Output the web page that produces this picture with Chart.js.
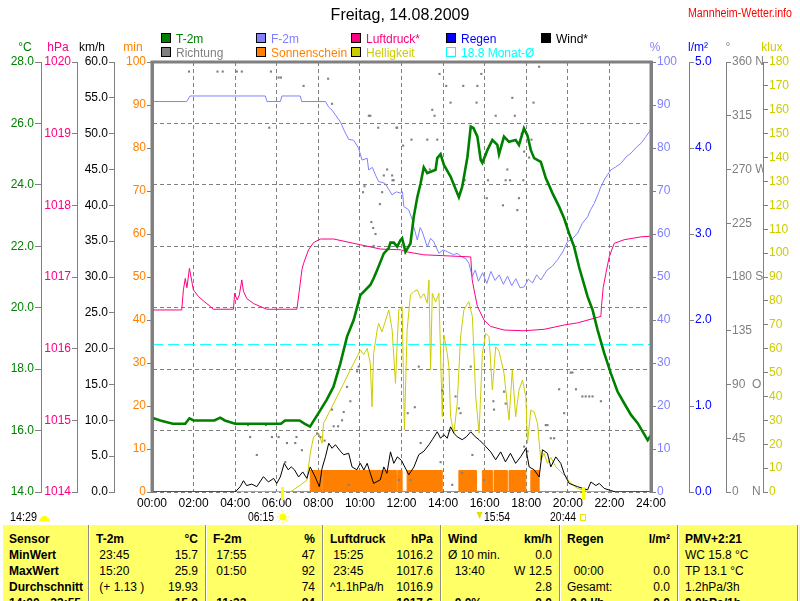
<!DOCTYPE html>
<html lang="de">
<head>
<meta charset="utf-8">
<title>Freitag, 14.08.2009</title>
<script src="https://cdn.jsdelivr.net/npm/chart.js@4.4.1/dist/chart.umd.min.js"></script>
<style>
  html, body { margin:0; padding:0; background:#fff; }
  body { width:800px; height:601px; overflow:hidden; position:relative; font-family:"Liberation Sans", Arial, sans-serif; }
  #chartBox { position:absolute; left:0; top:0; width:800px; height:525px; }
  #stats { position:absolute; left:3px; top:525px; width:797px; height:76px; background:#ffff66; overflow:hidden; font-size:12px; color:#000; }
  #stats .col { position:absolute; top:0; height:100%; box-sizing:border-box; }
  #stats .sep { border-left:1px solid #8c8c8c; box-shadow: inset 1px 0 0 #ffffff; }
  #stats .cell { position:absolute; left:0; right:0; height:16px; line-height:16px; white-space:pre; }
  #stats .l { position:absolute; left:7px; }
  #stats .c0 .l { left:6px; }
  #stats .r { position:absolute; right:7px; }
  #stats .b { font-weight:bold; }
</style>
</head>
<body>
<div id="chartBox"><canvas id="c" width="800" height="525"></canvas></div>
<div id="stats"></div>
<script>
// ---------------- data ----------------
const hourTickLabels = ['00:00','02:00','04:00','06:00','08:00','10:00','12:00','14:00','16:00','18:00','20:00','22:00','24:00'];
const dirTickLabels = ['0    N','45','90  O','135','180 S','225','270 W','315','360 N'];

const tempHours = [0,0.4,1.0,1.6,1.8,2.0,3.0,3.28,3.5,4.0,6.2,6.4,7.1,7.35,7.6,8.0,8.4,8.73,9.06,9.38,9.7,10.02,10.5,10.66,10.83,11.15,11.39,11.47,11.63,11.79,11.95,12.03,12.19,12.43,12.59,12.76,12.92,13.07,13.24,13.64,13.72,13.88,14.04,14.36,14.76,14.92,15.17,15.33,15.46,15.65,15.81,15.89,16.13,16.37,16.61,16.69,16.93,17.17,17.49,17.65,17.89,18.06,18.22,18.38,18.7,18.94,19.26,19.58,19.82,20.06,20.3,20.55,20.95,21.19,21.43,21.75,22.07,22.39,22.71,23.04,23.36,23.84,24.0];
const tempValues = [16.42,16.33,16.22,16.22,16.4,16.33,16.33,16.42,16.33,16.22,16.22,16.33,16.33,16.22,16.13,16.56,17.0,17.43,18.19,19.06,19.6,20.41,20.74,20.96,21.23,21.77,21.94,22.12,22.12,21.99,22.2,22.26,21.82,22.09,22.96,23.6,24.05,24.57,24.38,24.49,24.87,25.0,24.65,24.27,23.6,23.94,24.9,25.9,25.85,25.57,24.81,24.72,25.13,25.46,25.3,25.0,25.57,25.4,25.46,25.3,25.84,25.6,25.13,24.87,24.75,24.22,23.73,23.29,22.91,22.42,21.99,21.3,20.36,19.93,19.28,18.52,17.86,17.27,16.89,16.51,16.24,15.69,15.85];

const humHours = [0,1.67,1.83,5.45,5.53,6.17,6.25,7.13,7.2,8.34,8.5,8.66,8.85,9.06,9.25,9.46,9.7,9.94,10.1,10.35,10.42,10.6,10.75,10.9,11.2,11.55,11.75,11.95,12.05,12.11,12.35,12.52,12.6,12.76,12.9,13.0,13.24,13.4,13.55,13.8,14.0,14.2,14.5,14.68,14.9,15.1,15.24,15.4,15.55,15.7,15.9,16.1,16.3,16.5,16.7,16.9,17.1,17.3,17.5,17.7,17.9,18.1,18.3,18.5,18.7,19.0,19.25,19.5,19.75,19.98,20.2,20.47,20.7,20.95,21.1,21.27,21.45,21.59,21.8,22.07,22.3,22.55,22.8,23.04,23.3,23.52,23.75,23.92,24.0];
const humValues = [90.8,90.8,92.1,92.1,90.8,90.8,92.1,92.1,90.8,90.8,89.5,88.8,87.5,86.1,84.0,82.0,81.8,79.9,77.2,77.6,74.9,75.5,73.7,72.2,71.8,69.1,69.8,69.5,69.8,66.4,65.6,63.3,61.5,58.6,61.5,60.5,57.0,59.0,58.2,55.5,56.3,55.9,55.2,55.5,54.7,54.2,53.2,50.1,51.6,49.0,51.0,48.5,51.3,49.2,50.5,48.3,50.2,48.0,49.6,47.5,47.7,49.5,48.6,50.5,49.3,51.6,52.5,54.0,55.8,58.2,58.8,60.2,62.5,64.0,65.7,67.1,69.2,71.0,73.0,74.9,75.6,76.4,77.9,78.8,80.2,81.1,82.6,83.8,84.5];

const pressHours = [0,1.43,1.51,1.6,1.68,1.8,1.99,2.23,2.5,2.8,2.95,3.92,3.97,4.1,4.2,4.32,4.4,4.56,4.88,5.2,5.53,6.97,7.13,7.21,7.29,7.53,7.77,8.1,8.74,9.38,10.02,10.99,11.95,12.27,13.07,15.33,15.4,15.49,15.65,15.97,16.29,16.93,17.89,18.86,19.82,20.47,21.59,21.62,21.7,21.83,21.99,22.23,22.71,23.52,24];
const pressValues = [1016.54,1016.54,1016.82,1016.98,1016.85,1017.12,1016.82,1016.73,1016.66,1016.59,1016.55,1016.55,1016.77,1016.68,1016.75,1016.96,1016.8,1016.7,1016.63,1016.59,1016.55,1016.55,1016.91,1017.1,1017.19,1017.38,1017.48,1017.53,1017.53,1017.49,1017.45,1017.39,1017.38,1017.35,1017.31,1017.28,1016.96,1016.82,1016.59,1016.4,1016.31,1016.26,1016.25,1016.27,1016.33,1016.36,1016.45,1016.6,1016.85,1017.05,1017.28,1017.47,1017.52,1017.56,1017.57];

const windHours = [0,4.0,4.24,4.4,4.55,4.8,5.04,5.36,5.6,5.85,6.0,6.17,6.36,6.55,6.7,6.85,7.05,7.25,7.45,7.61,7.85,8.05,8.18,8.34,8.5,8.66,8.82,9.06,9.22,9.46,9.62,9.85,10.02,10.19,10.35,10.5,10.66,10.98,11.15,11.3,11.47,11.63,11.8,12.0,12.35,12.6,12.83,13.08,13.32,13.48,13.72,13.88,14.04,14.2,14.36,14.52,14.68,14.92,15.12,15.33,15.55,15.73,15.97,16.29,16.53,16.77,17.0,17.24,17.49,17.73,17.98,18.14,18.38,18.62,18.78,19.02,19.18,19.42,19.66,19.82,20.06,20.47,20.95,21.11,21.35,21.51,21.75,22.07,22.3,24];
const windValues = [0,0,0.74,1.58,0.9,1.1,0.74,2.14,1.4,1.9,1.2,2.1,4.0,3.1,3.5,3.1,2.1,2.8,1.9,3.5,2.1,0.74,3.3,4.9,6.8,6.1,6.6,5.7,5.2,5.4,3.5,3.1,4.0,3.07,4.0,2.6,1.2,1.7,3.5,2.6,5.6,4.0,4.9,4.4,2.4,3.5,5.2,5.7,6.6,7.3,8.4,7.5,8.0,7.5,9.1,8.2,7.7,7.3,7.7,8.4,7.7,7.3,6.6,5.6,4.5,5.6,4.2,5.4,4.0,4.9,6.1,3.5,3.1,2.1,5.9,5.4,3.5,4.9,4.0,2.6,1.2,0.74,0.3,1.4,0.9,1.2,0.5,0.2,0,0];

const luxHours = [0,6.65,7.13,7.45,7.61,7.77,8.02,8.18,8.25,8.58,8.9,9.22,9.54,9.86,10.02,10.18,10.35,10.5,10.58,10.66,10.83,10.9,11.06,11.22,11.39,11.55,11.71,11.79,11.87,12.03,12.14,12.27,12.43,12.6,12.76,12.92,13.08,13.24,13.32,13.4,13.48,13.64,13.8,13.96,14.04,14.2,14.28,14.36,14.52,14.68,14.84,15.0,15.24,15.41,15.57,15.73,15.89,16.05,16.21,16.37,16.53,16.69,16.93,17.17,17.33,17.49,17.65,17.82,17.98,18.06,18.22,18.38,18.54,18.7,18.86,19.02,19.18,19.42,19.66,19.9,20.14,20.47,20.87,21.0,24];
const luxValues = [0,0,2.9,5,16.2,23.1,24.6,20.4,28.8,34.3,39.9,45.5,51.1,56.6,59.4,57.5,60.1,53.9,35.7,58.0,67.8,70.6,67.0,71.5,76.2,67.8,45.5,62.0,76.2,77.6,26.0,67.8,82.5,84.0,84.6,81.1,83.0,79.0,88.7,51.1,83.2,79.5,83.2,31.5,65.7,58.0,52.4,31.5,24.6,37.1,65.0,76.2,79.7,73.4,39.9,24.6,58.0,66.4,65.0,42.7,60.8,59.0,49.7,30.1,51.1,31.5,42.7,46.9,39.9,20.4,34.3,33.5,28.8,13.4,16.2,12.0,14.5,10.6,8.5,6.4,3.6,1.5,0.5,0,0];

const sunshineHours = [0,7.61,8.16,8.21,11.77,11.82,12.03,12.27,13.96,14.76,15.61,15.89,16.37,16.45,17.09,17.17,17.98,18.22,18.62,24];
const sunshineMin   = [0,5,0,5,0,5,0,5,0,5,0,5,0,5,0,5,0,5,0,0];

const dirHours = [1.78,3.15,3.4,4.08,4.32,4.61,4.72,5.04,5.48,5.64,5.72,5.77,6.09,6.09,6.2,6.41,6.49,6.89,6.95,7.21,7.29,7.94,8.1,8.3,8.47,8.66,8.66,8.74,8.95,9.14,9.22,9.38,9.46,9.54,9.86,9.94,10.15,10.22,10.43,10.5,10.55,10.64,10.66,10.75,10.88,10.96,11.07,11.15,11.31,11.55,11.57,11.62,11.76,11.79,11.87,12.08,12.3,12.43,12.48,12.64,12.83,12.92,13.24,13.36,13.48,13.59,13.72,13.83,13.88,13.96,14.15,14.36,14.44,14.6,14.76,14.84,14.92,14.97,15.04,15.33,15.41,15.61,15.65,15.84,15.97,16.1,16.16,16.42,16.45,16.53,16.88,16.93,17.01,17.01,17.09,17.22,17.33,17.45,17.57,17.65,17.78,17.86,17.9,17.9,18.06,18.14,18.25,18.35,18.62,18.94,19.02,19.18,19.34,19.58,19.82,20.14,20.22,20.39,20.7,20.86,21.03,21.19,21.59];
const dirValues = [352,352,352,352,352,56,46,31,56,305,352,46,347,46,347,25,41,41,46,35,340,49,46,43,346,325,69,55,55,60,67,88,6,76,101,105,251,256,315,315,226,221,206,216,305,241,251,265,270,265,261,261,305,305,10,290,66,10,295,71,105,41,295,270,320,315,295,350,25,85,340,326,6,80,70,66,16,340,261,105,31,326,340,350,10,246,261,76,69,315,240,84,261,74,270,261,330,315,236,246,300,261,285,38,34,280,295,326,356,56,56,45,45,86,66,100,100,86,80,80,80,80,76];

const rainHours = [0,24];
const rainValues = [0,0];

const monthAvgTemp = 18.8;
const sunEventHours = [6.25, 20.733];
const sunEventLabels = ['06:15','20:44'];

const tableHead = [['Sensor',''],['T-2m','°C'],['F-2m','%'],['Luftdruck','hPa'],['Wind','km/h'],['Regen','l/m²'],['PMV+2:21','']];
const tableRows = [
  [['MinWert',''],[' 23:45','15.7'],[' 17:55','47'],[' 15:25','1016.2'],['Ø 10 min.','0.0'],['',''],['WC 15.8 °C','']],
  [['MaxWert',''],[' 15:20','25.9'],[' 01:50','92'],[' 23:45','1017.6'],['  13:40','W 12.5'],['  00:00','0.0'],['TP 13.1 °C','']],
  [['Durchschnitt',''],[' (+ 1.13 )','19.93'],['','74'],['^1.1hPa/h','1016.9'],['','2.8'],['Gesamt:','0.0'],['1.2hPa/3h','']],
  [['14:00 - 23:55',''],['','15.0'],[' 11:32 ...','84'],['','1017.6'],['  0.0%','0.0'],[' 0.0 l/h','0.0'],['0.0hPa/1h','']]
];

// ---------------- chart ----------------
const FONT = '"Liberation Sans", Arial, Helvetica, sans-serif';
const GRAY = '#808080';
const toXY = (hs, vs) => hs.map((h, i) => ({x: h, y: vs[i]}));
const monthLabel = monthAvgTemp.toFixed(1) + ' Monat-Ø';

function yAxis(o) {
  return {
    type: 'linear', position: o.position, weight: o.weight,
    min: o.min, max: o.max,
    afterFit: s => { s.width = o.width; },
    border: {display: true, color: GRAY, width: o.borderWidth || 1, dash: o.dash || []},
    grid: {display: true, drawOnChartArea: !!o.gridOn, drawTicks: true, tickLength: o.tickLength || 5,
           color: GRAY, tickColor: GRAY, lineWidth: 1},
    ticks: {stepSize: o.step, color: o.color, padding: 1, autoSkip: false,
            font: {family: FONT, size: 12}, callback: o.fmt}
  };
}

const scales = {
  x: {
    type: 'linear', min: 0, max: 24,
    afterFit: s => { s.height = 33; },
    border: {display: false, dash: [4, 3]},
    grid: {display: true, drawOnChartArea: true, drawTicks: false, color: GRAY, lineWidth: 1},
    ticks: {stepSize: 2, autoSkip: false, maxRotation: 0, padding: 4, color: '#000',
            font: {family: FONT, size: 12}, callback: (v, i) => hourTickLabels[i]}
  },
  yMin: yAxis({position: 'left', weight: 1, min: 0, max: 100, step: 10, color: '#ff8000', width: 38, borderWidth: 3, fmt: v => String(v)}),
  yW:   yAxis({position: 'left', weight: 2, min: 0, max: 60, step: 5, color: '#000000', width: 37, fmt: v => v.toFixed(1)}),
  yP:   yAxis({position: 'left', weight: 3, min: 1014, max: 1020, step: 1, color: '#ff0080', width: 36, fmt: v => String(v)}),
  yT:   yAxis({position: 'left', weight: 4, min: 14, max: 28, step: 2, color: '#008000', width: 41, tickLength: 6, gridOn: true, dash: [4, 3], fmt: v => v.toFixed(1)}),
  yPct: yAxis({position: 'right', weight: 1, min: 0, max: 100, step: 10, color: '#8080ff', width: 38, borderWidth: 3, fmt: v => String(v)}),
  yR:   yAxis({position: 'right', weight: 2, min: 0, max: 5, step: 1, color: '#0000ff', width: 37, fmt: v => v.toFixed(1)}),
  yDir: yAxis({position: 'right', weight: 3, min: 0, max: 360, step: 45, color: '#808080', width: 37, fmt: (v, i) => dirTickLabels[i]}),
  yLux: yAxis({position: 'right', weight: 4, min: 0, max: 180, step: 10, color: '#cccc00', width: 37, fmt: v => String(v)})
};

const lineBase = {type: 'line', pointRadius: 0, pointHoverRadius: 0, tension: 0, fill: false, borderWidth: 1};
const datasets = [
  {...lineBase, label: 'T-2m', yAxisID: 'yT', data: toXY(tempHours, tempValues), borderColor: '#008000', backgroundColor: '#008000', borderWidth: 2.6},
  {...lineBase, label: 'Wind*', yAxisID: 'yW', data: toXY(windHours, windValues), borderColor: '#000000', backgroundColor: '#000000'},
  {type: 'line', label: 'Richtung', yAxisID: 'yDir', data: toXY(dirHours, dirValues), showLine: false,
   pointStyle: 'rect', pointRadius: 1.5, pointBorderWidth: 0, borderWidth: 0, borderColor: '#808080', backgroundColor: '#808080', pointBackgroundColor: '#808080'},
  {...lineBase, label: 'Luftdruck*', yAxisID: 'yP', data: toXY(pressHours, pressValues), borderColor: '#ff0080', backgroundColor: '#ff0080'},
  {...lineBase, label: 'F-2m', yAxisID: 'yPct', data: toXY(humHours, humValues), borderColor: '#8080ff', backgroundColor: '#8080ff'},
  {...lineBase, label: 'Helligkeit', yAxisID: 'yLux', data: toXY(luxHours, luxValues), borderColor: '#cccc00', backgroundColor: '#cccc00'},
  {...lineBase, label: monthLabel, yAxisID: 'yT', data: [{x: 0, y: monthAvgTemp}, {x: 24, y: monthAvgTemp}], borderColor: '#00ffff', backgroundColor: '#00ffff', borderDash: [11, 5], hollow: true},
  {...lineBase, label: 'Sonnenschein', yAxisID: 'yMin', data: toXY(sunshineHours, sunshineMin), stepped: true, fill: 'origin', borderColor: '#ff8000', backgroundColor: '#ff8000'},
  {...lineBase, label: 'Regen', yAxisID: 'yR', data: toXY(rainHours, rainValues), borderColor: '#0000ff', backgroundColor: '#0000ff'}
];

const legendColumns = [['T-2m', 'Richtung'], ['F-2m', 'Sonnenschein'], ['Luftdruck*', 'Helligkeit'], ['Regen', monthLabel], ['Wind*']];

const extras = {
  id: 'extras',
  afterDatasetsDraw(chart) {
    const {ctx, chartArea: a} = chart;
    ctx.save();
    ctx.strokeStyle = GRAY; ctx.lineWidth = 3;
    ctx.beginPath();
    ctx.moveTo(a.left, a.bottom + 1); ctx.lineTo(a.left, a.top); ctx.lineTo(a.right, a.top); ctx.lineTo(a.right, a.bottom + 1);
    ctx.stroke();
    ctx.restore();
  },
  afterDraw(chart) {
    const {ctx, chartArea: a, scales: sc} = chart;
    ctx.save();
    ctx.font = '12px ' + FONT;
    ctx.textBaseline = 'alphabetic';
    // legend
    const colX = [161, 256, 351, 446, 541];
    const rowY = [33, 47];
    legendColumns.forEach((col, ci) => col.forEach((lab, ri) => {
      const ds = chart.data.datasets.find(d => d.label === lab);
      const x = colX[ci], y = rowY[ri];
      if (ds.hollow) {
        ctx.strokeStyle = ds.borderColor; ctx.lineWidth = 1;
        ctx.strokeRect(x + 0.5, y + 0.5, 9, 9);
      } else {
        ctx.fillStyle = ds.borderColor; ctx.fillRect(x, y, 10, 10);
        ctx.strokeStyle = '#000'; ctx.lineWidth = 1; ctx.strokeRect(x + 0.5, y + 0.5, 9, 9);
      }
      ctx.fillStyle = ds.borderColor;
      ctx.textAlign = 'left';
      ctx.fillText(lab, x + 15, y + 10);
    }));
    // axis unit titles
    const units = [['yT', '°C', 25], ['yP', 'hPa', 58], ['yW', 'km/h', 92], ['yMin', 'min', 133],
                   ['yPct', '%', 655], ['yR', 'l/m²', 698], ['yDir', '°', 728], ['yLux', 'klux', 772]];
    ctx.textAlign = 'center';
    units.forEach(([id, t, x]) => { ctx.fillStyle = sc[id].options.ticks.color; ctx.fillText(t, x, 51); });
    // site name
    ctx.textAlign = 'left'; ctx.fillStyle = '#ff0000';
    ctx.fillText('Mannheim-Wetter.info', 688, 17, 104);
    // sunrise / sunset markers
    const xs = sc.x;
    ctx.fillStyle = '#ffff00';
    sunEventHours.forEach(h => { const px = xs.getPixelForValue(h); ctx.fillRect(Math.round(px) - 1, a.bottom - 5, 3, 13); });
    ctx.fillStyle = '#000';
    ctx.textAlign = 'right';
    const rise = xs.getPixelForValue(sunEventHours[0]);
    const set = xs.getPixelForValue(sunEventHours[1]);
    ctx.fillText(sunEventLabels[0], rise - 8, 521, 26);
    ctx.fillText(sunEventLabels[1], set - 7, 521, 26);
    // sun icon
    ctx.fillStyle = '#ffff00'; ctx.strokeStyle = '#ffff00'; ctx.lineWidth = 1;
    ctx.beginPath(); ctx.arc(rise + 1, 517, 3.5, 0, Math.PI * 2); ctx.fill();
    for (let k = 0; k < 8; k++) {
      const ang = k * Math.PI / 4;
      ctx.beginPath(); ctx.moveTo(rise + 1 + Math.cos(ang) * 4.5, 517 + Math.sin(ang) * 4.5);
      ctx.lineTo(rise + 1 + Math.cos(ang) * 6, 517 + Math.sin(ang) * 6); ctx.stroke();
    }
    // sunset hollow square
    ctx.strokeStyle = '#e8e800'; ctx.strokeRect(Math.round(set) - 2.5, 514.5, 5, 6);
    // 15:54 marker
    const mid = xs.getPixelForValue(15.9);
    ctx.fillStyle = '#e0e000';
    ctx.beginPath(); ctx.moveTo(mid - 6, 512); ctx.lineTo(mid, 512); ctx.lineTo(mid - 3, 519); ctx.closePath(); ctx.fill();
    ctx.fillStyle = '#000'; ctx.textAlign = 'left';
    ctx.fillText('15:54', mid + 1.5, 521, 26);
    // 14:29 with cloud/sun icon
    ctx.fillText('14:29', 10, 521, 27);
    ctx.fillStyle = '#ffff00';
    ctx.beginPath(); ctx.arc(44.5, 520.5, 4.5, Math.PI, 0); ctx.closePath(); ctx.fill();
    ctx.fillRect(39.5, 519.5, 10, 2);
    ctx.restore();
  }
};

new Chart(document.getElementById('c'), {
  type: 'line',
  data: {datasets},
  options: {
    responsive: false, animation: false, events: [],
    layout: {padding: {top: 0, left: 0, right: 0, bottom: 0}},
    scales,
    plugins: {
      legend: {display: false},
      tooltip: {enabled: false},
      title: {display: true, text: 'Freitag, 14.08.2009', color: '#000',
              font: {family: FONT, size: 16, weight: 'normal'}, padding: {top: 6, bottom: 36.8}}
    }
  },
  plugins: [extras]
});

// ---------------- statistics table ----------------
const colEdges = [0, 85, 202, 319, 437, 556, 674, 794, 797];
const stats = document.getElementById('stats');
const allRows = [tableHead, ...tableRows];
for (let c = 0; c < 8; c++) {
  const col = document.createElement('div');
  col.className = 'col c' + c + (c > 0 ? ' sep' : '');
  col.style.left = colEdges[c] + 'px';
  col.style.width = (colEdges[c + 1] - colEdges[c]) + 'px';
  if (c < 7) {
    allRows.forEach((row, r) => {
      const cell = document.createElement('div');
      cell.className = 'cell';
      cell.style.top = (6 + 16 * r) + 'px';
      const bold = r === 0 || r === 4 || c === 0;
      const [lt, rt] = row[c];
      const L = document.createElement('span'); L.className = 'l' + (bold ? ' b' : ''); L.textContent = lt;
      const R = document.createElement('span'); R.className = 'r' + (bold ? ' b' : ''); R.textContent = rt;
      cell.appendChild(L); cell.appendChild(R);
      col.appendChild(cell);
    });
  }
  stats.appendChild(col);
}
</script>
</body>
</html>
